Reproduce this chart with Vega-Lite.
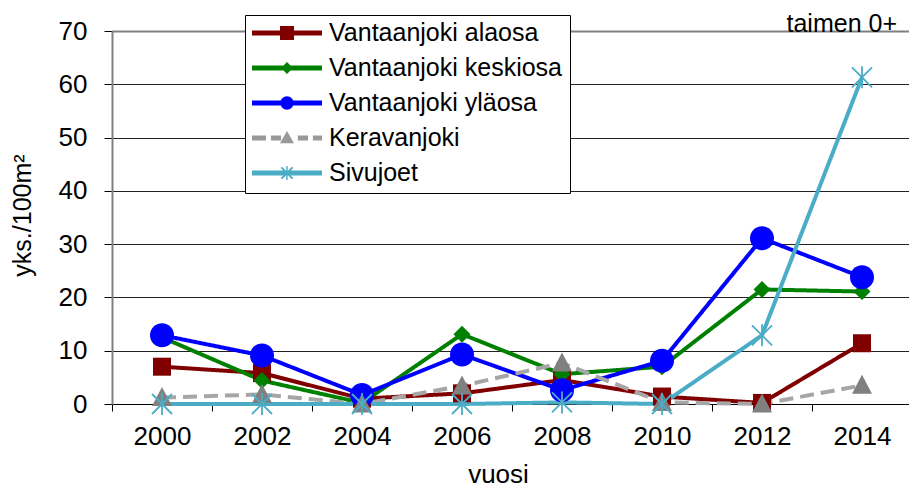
{
  "$schema": "https://vega.github.io/schema/vega-lite/v6.json",
  "width": 800,
  "height": 373,
  "autosize": {"type": "none"},
  "padding": {"left": 112, "top": 31, "right": 0, "bottom": 80},
  "background": "white",
  "title": {"text": "taimen 0+", "anchor": "end", "frame": "group", "orient": "top", "dx": -15, "offset": -42, "baseline": "alphabetic", "fontSize": 25, "fontWeight": "normal", "font": "Liberation Sans", "color": "black"},
  "config": {
    "font": "Liberation Sans",
    "view": {"stroke": null},
    "axis": {"labelFont": "Liberation Sans", "titleFont": "Liberation Sans", "labelFontSize": 26, "titleFontSize": 25, "labelColor": "black", "titleColor": "black", "titleFontWeight": "normal"}
  },
  "data": {"values": [
    {"year": "2000", "series": "Vantaanjoki alaosa", "value": 7.0},
    {"year": "2002", "series": "Vantaanjoki alaosa", "value": 5.8},
    {"year": "2004", "series": "Vantaanjoki alaosa", "value": 1.0},
    {"year": "2006", "series": "Vantaanjoki alaosa", "value": 2.0},
    {"year": "2008", "series": "Vantaanjoki alaosa", "value": 4.5},
    {"year": "2010", "series": "Vantaanjoki alaosa", "value": 1.4},
    {"year": "2012", "series": "Vantaanjoki alaosa", "value": 0.2},
    {"year": "2014", "series": "Vantaanjoki alaosa", "value": 11.4},
    {"year": "2000", "series": "Vantaanjoki keskiosa", "value": 12.5},
    {"year": "2002", "series": "Vantaanjoki keskiosa", "value": 4.4},
    {"year": "2004", "series": "Vantaanjoki keskiosa", "value": 0.2},
    {"year": "2006", "series": "Vantaanjoki keskiosa", "value": 13.1},
    {"year": "2008", "series": "Vantaanjoki keskiosa", "value": 5.6},
    {"year": "2010", "series": "Vantaanjoki keskiosa", "value": 7.0},
    {"year": "2012", "series": "Vantaanjoki keskiosa", "value": 21.5},
    {"year": "2014", "series": "Vantaanjoki keskiosa", "value": 21.1},
    {"year": "2000", "series": "Vantaanjoki yläosa", "value": 12.9},
    {"year": "2002", "series": "Vantaanjoki yläosa", "value": 9.1},
    {"year": "2004", "series": "Vantaanjoki yläosa", "value": 1.7},
    {"year": "2006", "series": "Vantaanjoki yläosa", "value": 9.3},
    {"year": "2008", "series": "Vantaanjoki yläosa", "value": 2.6},
    {"year": "2010", "series": "Vantaanjoki yläosa", "value": 8.1},
    {"year": "2012", "series": "Vantaanjoki yläosa", "value": 31.1},
    {"year": "2014", "series": "Vantaanjoki yläosa", "value": 23.8},
    {"year": "2000", "series": "Keravanjoki", "value": 1.2},
    {"year": "2002", "series": "Keravanjoki", "value": 1.8},
    {"year": "2004", "series": "Keravanjoki", "value": 0.0},
    {"year": "2006", "series": "Keravanjoki", "value": 3.4},
    {"year": "2008", "series": "Keravanjoki", "value": 7.7},
    {"year": "2010", "series": "Keravanjoki", "value": 0.3},
    {"year": "2012", "series": "Keravanjoki", "value": 0.0},
    {"year": "2014", "series": "Keravanjoki", "value": 3.5},
    {"year": "2000", "series": "Sivujoet", "value": 0.0},
    {"year": "2002", "series": "Sivujoet", "value": 0.0},
    {"year": "2004", "series": "Sivujoet", "value": 0.0},
    {"year": "2006", "series": "Sivujoet", "value": 0.0},
    {"year": "2008", "series": "Sivujoet", "value": 0.3},
    {"year": "2010", "series": "Sivujoet", "value": 0.0},
    {"year": "2012", "series": "Sivujoet", "value": 12.9},
    {"year": "2014", "series": "Sivujoet", "value": 61.3}
  ]},
  "encoding": {
    "x": {
      "field": "year", "type": "ordinal",
      "scale": {"type": "band", "paddingInner": 0, "paddingOuter": 0},
      "axis": {"title": "vuosi", "labelAngle": 0, "tickBand": "extent", "tickSize": 7, "tickColor": "black", "domainColor": "black", "domainWidth": 1, "labelPadding": 12, "grid": false, "titleX": 386, "titleY": 78, "titleBaseline": "alphabetic", "titleFontSize": 26}
    },
    "y": {
      "field": "value", "type": "quantitative",
      "scale": {"domain": [0, 70], "nice": false},
      "axis": {"title": "yks./100m²", "values": [0, 10, 20, 30, 40, 50, 60, 70], "tickSize": 8, "tickColor": "black", "domainColor": "#808080", "domainWidth": 2, "labelPadding": 17, "grid": true,
        "gridColor": {"condition": {"test": "datum.value === 70", "value": "#808080"}, "value": "#222222"},
        "gridWidth": {"condition": {"test": "datum.value === 70", "value": 2}, "value": 1},
        "titleX": -82, "titleY": 184, "titleAngle": -90, "titleBaseline": "alphabetic"}
    }
  },
  "resolve": {"scale": {"shape": "independent", "color": "independent"}},
  "layer": [
    {
      "mark": {"type": "line", "strokeWidth": 4},
      "encoding": {
        "stroke": {
          "field": "series", "type": "nominal",
          "scale": {"domain": ["Vantaanjoki alaosa", "Vantaanjoki keskiosa", "Vantaanjoki yläosa", "Keravanjoki", "Sivujoet"], "range": ["#800000", "#008000", "#0000FF", "#A6A6A6", "#4BACC6"]},
          "legend": null
        },
        "strokeDash": {
          "field": "series", "type": "nominal",
          "scale": {"domain": ["Vantaanjoki alaosa", "Vantaanjoki keskiosa", "Vantaanjoki yläosa", "Keravanjoki", "Sivujoet"], "range": [[1, 0], [1, 0], [1, 0], [14, 7], [1, 0]]},
          "legend": null
        }
      }
    },
    {
      "transform": [{"filter": "datum.series === 'Vantaanjoki alaosa'"}],
      "mark": {"type": "point", "filled": true, "opacity": 1, "size": 400, "fill": "#800000", "shape": "M-0.9,-0.9H0.9V0.9H-0.9Z"},
      "encoding": {}
    },
    {
      "transform": [{"filter": "datum.series === 'Vantaanjoki keskiosa'"}],
      "mark": {"type": "point", "filled": true, "opacity": 1, "size": 400, "fill": "#008000", "shape": "M0,-0.85L0.85,0L0,0.85L-0.85,0Z"},
      "encoding": {}
    },
    {
      "transform": [{"filter": "datum.series === 'Vantaanjoki yläosa'"}],
      "mark": {"type": "point", "filled": true, "opacity": 1, "size": 400, "fill": "#0000FF", "shape": "M-1.2,0A1.2,1.2,0,1,1,1.2,0A1.2,1.2,0,1,1,-1.2,0Z"},
      "encoding": {}
    },
    {
      "transform": [{"filter": "datum.series === 'Keravanjoki'"}],
      "mark": {"type": "point", "filled": true, "opacity": 1, "size": 400, "fill": "#808080", "shape": "M0,-1.05L1,0.85L-1,0.85Z"},
      "encoding": {}
    },
    {
      "transform": [{"filter": "datum.series === 'Sivujoet'"}],
      "mark": {"type": "point", "filled": false, "opacity": 1, "shape": "M-1,-1L1,1M-1,1L1,-1M0,-1.1V1.1", "size": 400, "strokeWidth": 1.8, "stroke": "#4BACC6"},
      "encoding": {}
    },
    {
      "mark": {"type": "point", "filled": true, "opacity": 0},
      "encoding": {
        "color": {
          "field": "series", "type": "nominal",
          "scale": {"domain": ["Vantaanjoki alaosa", "Vantaanjoki keskiosa", "Vantaanjoki yläosa", "Keravanjoki", "Sivujoet"], "range": ["#800000", "#008000", "#0000FF", "#999999", "#4BACC6"]},
          "legend": {
            "title": null, "orient": "none", "legendX": 133, "legendY": -16,
            "fillColor": "white", "strokeColor": "black", "padding": 7,
            "labelFontSize": 25, "labelFont": "Liberation Sans", "labelColor": "black", "labelOffset": 7, "labelLimit": 400,
            "symbolSize": 4900, "clipHeight": 22, "rowPadding": 10,
            "symbolStrokeWidth": 0, "symbolOpacity": 1, "symbolFillColor": "#000000"
          }
        },
        "shape": {
          "field": "series", "type": "nominal",
          "scale": {"domain": ["Vantaanjoki alaosa", "Vantaanjoki keskiosa", "Vantaanjoki yläosa", "Keravanjoki", "Sivujoet"], "range": [
            "M-1,-0.07H1V0.07H-1Z M-0.2,-0.2H0.2V0.2H-0.2Z",
            "M-1,-0.07H1V0.07H-1Z M0,-0.17L0.17,0L0,0.17L-0.17,0Z",
            "M-1,-0.07H1V0.07H-1Z M-0.19,0A0.19,0.19,0,1,1,0.19,0A0.19,0.19,0,1,1,-0.19,0Z",
            "M-1,-0.07H-0.6V0.07H-1Z M-0.46,-0.07H-0.17V0.07H-0.46Z M0.31,-0.07H0.6V0.07H0.31Z M0.74,-0.07H1V0.07H0.74Z M0,-0.2L0.2,0.15L-0.2,0.15Z",
            "M-1,-0.07H1V0.07H-1Z M-0.02,-0.2H0.02V0.2H-0.02Z M-0.18,-0.14L-0.14,-0.18L0.18,0.14L0.14,0.18Z M-0.18,0.14L0.14,-0.18L0.18,-0.14L-0.14,0.18Z"
          ]},
          "legend": {
            "title": null, "orient": "none", "legendX": 133, "legendY": -16,
            "fillColor": "white", "strokeColor": "black", "padding": 7,
            "labelFontSize": 25, "labelFont": "Liberation Sans", "labelColor": "black", "labelOffset": 7, "labelLimit": 400,
            "symbolSize": 4900, "clipHeight": 22, "rowPadding": 10,
            "symbolStrokeWidth": 0, "symbolOpacity": 1, "symbolFillColor": "#000000"
          }
        }
      }
    }
  ]
}
